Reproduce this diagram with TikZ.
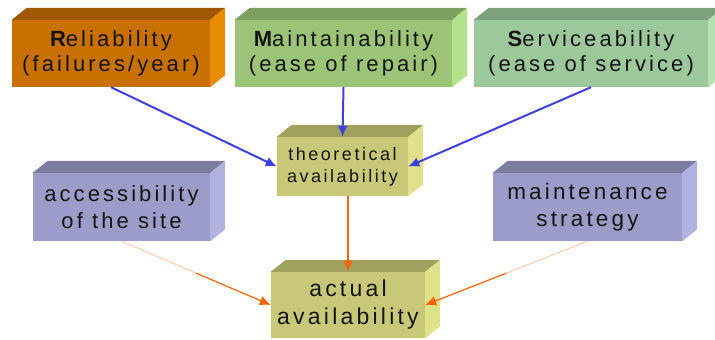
\documentclass[tikz,border=0pt]{standalone}
\usepackage{fontspec}
\setmainfont{Liberation Sans}[LetterSpace=14]
\usetikzlibrary{calc,arrows.meta}
\definecolor{relF}{RGB}{200,112,0}
\definecolor{relT}{RGB}{160,88,0}
\definecolor{relS}{RGB}{232,140,0}
\definecolor{maiF}{RGB}{155,196,118}
\definecolor{maiT}{RGB}{125,160,95}
\definecolor{maiS}{RGB}{180,225,140}
\definecolor{serF}{RGB}{156,200,156}
\definecolor{serT}{RGB}{125,160,125}
\definecolor{serS}{RGB}{178,225,178}
\definecolor{avaF}{RGB}{200,200,120}
\definecolor{avaT}{RGB}{160,160,95}
\definecolor{avaS}{RGB}{225,225,140}
\definecolor{purF}{RGB}{156,156,200}
\definecolor{purT}{RGB}{124,124,160}
\definecolor{purS}{RGB}{178,178,225}
\definecolor{txt}{RGB}{20,20,20}
\definecolor{arrblue}{RGB}{64,64,224}
\definecolor{arrorange}{RGB}{255,100,0}
\newcommand\cubefaces[3]{%
  \fill[#2] (#1.north west) -- ++(15,-12) -- ($(#1.north east)+(15,-12)$) -- (#1.north east) -- cycle;
  \fill[#3] (#1.north east) -- ++(15,-12) -- ($(#1.south east)+(15,-12)$) -- (#1.south east) -- cycle;}
\begin{document}
\begin{tikzpicture}[x=1pt,y=-1pt,
  face/.style={inner sep=0pt, align=center, text=txt},
  big/.style={font=\fontsize{22}{25}\selectfont},
  bluearr/.style={draw=arrblue, line width=2pt, -{Latex[length=11pt,width=10pt]}},
  orarr/.style={draw=arrorange, line width=2.6pt, -{Latex[length=11pt,width=10pt]}},
  thinor/.style={draw=arrorange, line width=1.2pt, -{Latex[length=11pt,width=10pt]}},
  fadeor/.style={draw=arrorange!35, line width=0.9pt}]
\clip (0,0) rectangle (715,340);
\fill[white] (0,0) rectangle (715,340);
% top row
\node[face, big, fill=relF, minimum width=198pt, minimum height=67pt] (rel) at (111,53.5)
  {{\bfseries R}eliability\\(failures/year)};
\node[face, big, fill=maiF, minimum width=217pt, minimum height=67pt] (mai) at (343.5,53.5)
  {{\bfseries M}aintainability\\(ease of repair)};
\node[face, big, fill=serF, minimum width=234pt, minimum height=67pt] (ser) at (591,53.5)
  {{\bfseries S}erviceability\\(ease of service)};
\cubefaces{rel}{relT}{relS}
\cubefaces{mai}{maiT}{maiS}
\cubefaces{ser}{serT}{serS}
% middle
\node[face, font=\fontsize{18}{22}\selectfont, fill=avaF, minimum width=131pt, minimum height=59pt] (theo) at (342.5,166.5)
  {theoretical\\availability};
\cubefaces{theo}{avaT}{avaS}
\node[face, font=\fontsize{22}{27}\selectfont, fill=purF, minimum width=177pt, minimum height=68pt] (acc) at (121.5,207)
  {accessibility\\of the site};
\node[face, font=\fontsize{22.5}{27}\selectfont, fill=purF, minimum width=189pt, minimum height=68pt] (mst) at (587.5,207)
  {maintenance\\strategy};
\cubefaces{acc}{purT}{purS}
\cubefaces{mst}{purT}{purS}
% bottom
\node[face, font=\fontsize{23}{28}\selectfont, fill=avaF, minimum width=154pt, minimum height=66pt] (act) at (348,305)
  {actual\\availability};
\cubefaces{act}{avaT}{avaS}
% connectors
\draw[bluearr] (rel.south) -- (theo.west);
\draw[bluearr] (mai.south) -- (theo.north);
\draw[bluearr] (ser.south) -- (theo.east);
\draw[orarr] (theo.south -| act.north) -- (act.north);
\draw[fadeor] (acc.south) -- ($(acc.south)!0.5!(act.west)$);
\draw[thinor] ($(acc.south)!0.5!(act.west)$) -- (act.west);
\draw[fadeor] (mst.south) -- ($(mst.south)!0.5!(act.east)$);
\draw[thinor] ($(mst.south)!0.5!(act.east)$) -- (act.east);
\end{tikzpicture}
\end{document}
